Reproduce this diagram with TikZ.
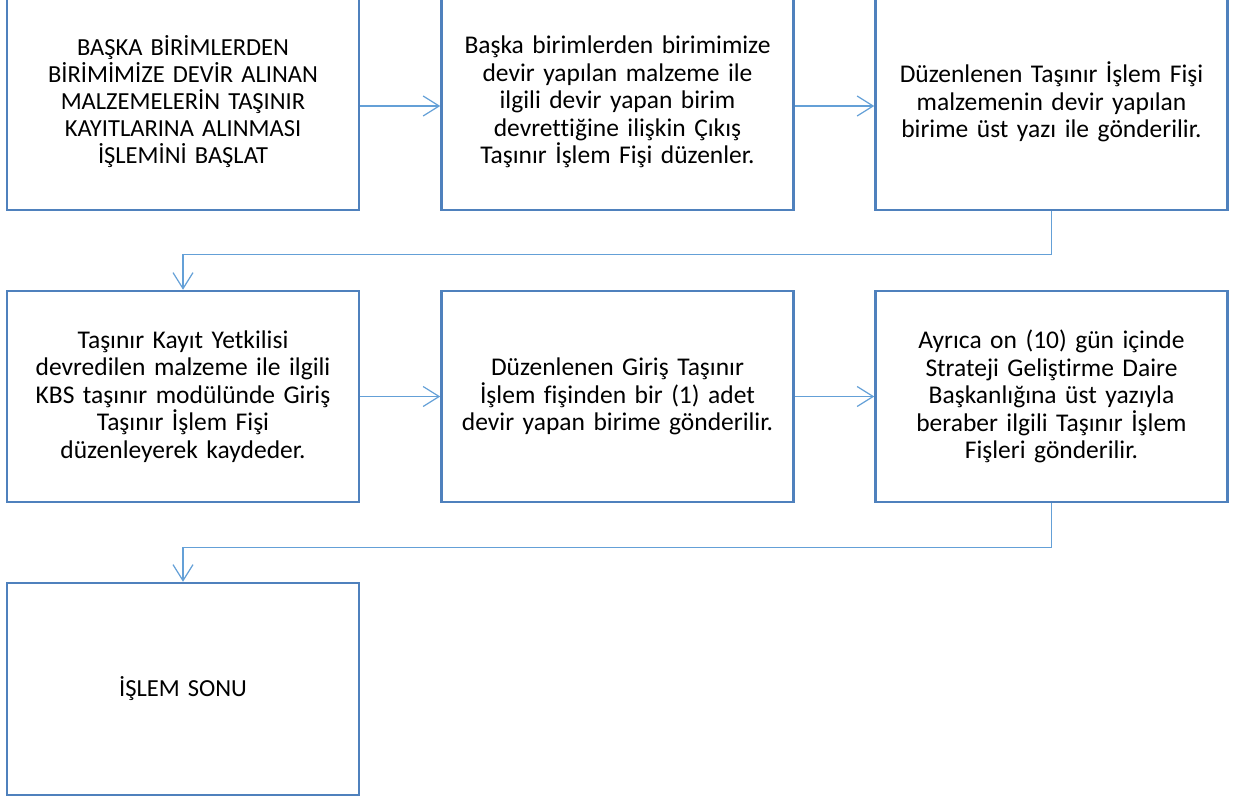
\documentclass[tikz,border=0pt]{standalone}
\usepackage{fontspec}
\setmainfont{Carlito}[Ligatures={NoCommon}]
\usetikzlibrary{arrows.meta}
\definecolor{boxblue}{RGB}{79,129,189}
\definecolor{linkblue}{RGB}{100,160,215}
\tikzset{
  stepbox/.style={draw=boxblue, line width=2.5pt, fill=none, minimum width=352pt, minimum height=211pt, inner sep=0pt, align=center, text width=345pt, font=\fontsize{25.5}{27.5}\selectfont},
  capsfont/.style={font=\fontsize{24.5}{27}\selectfont},
  conn/.style={draw=linkblue, line width=1.2pt, -{Straight Barb[length=16pt,width=20pt,line width=1.2pt]}}
}
\begin{document}
\begin{tikzpicture}[x=1pt,y=-1pt]
\useasboundingbox (0,0) rectangle (1243,800);
\node[stepbox, capsfont, minimum height=216pt] (b1) at (183,102) {BAŞKA BİRİMLERDEN\\BİRİMİMİZE DEVİR ALINAN\\MALZEMELERİN TAŞINIR\\KAYITLARINA ALINMASI\\İŞLEMİNİ BAŞLAT};
\node[stepbox, minimum height=216pt] (b2) at (617.5,102) {Başka birimlerden birimimize\\devir yapılan malzeme ile\\ilgili devir yapan birim\\devrettiğine ilişkin Çıkış\\Taşınır İşlem Fişi düzenler.};
\node[stepbox, minimum height=216pt] (b3) at (1051.5,102) {Düzenlenen Taşınır İşlem Fişi\\malzemenin devir yapılan\\birime üst yazı ile gönderilir.};
\node[stepbox] (b4) at (183,396.5) {Taşınır Kayıt Yetkilisi\\devredilen malzeme ile ilgili\\KBS taşınır modülünde Giriş\\Taşınır İşlem Fişi\\düzenleyerek kaydeder.};
\node[stepbox] (b5) at (617.5,396.5) {Düzenlenen Giriş Taşınır\\İşlem fişinden bir (1) adet\\devir yapan birime gönderilir.};
\node[stepbox] (b6) at (1051.5,396.5) {Ayrıca on (10) gün içinde\\Strateji Geliştirme Daire\\Başkanlığına üst yazıyla\\beraber ilgili Taşınır İşlem\\Fişleri gönderilir.};
\node[stepbox, capsfont, minimum height=212pt] (b7) at (183,689) {İŞLEM SONU};
\draw[conn] ([yshift=-4pt]b1.east) -- ([yshift=-4pt]b2.west);
\draw[conn] ([yshift=-4pt]b2.east) -- ([yshift=-4pt]b3.west);
\draw[conn] (b4.east) -- (b5.west);
\draw[conn] (b5.east) -- (b6.west);
\draw[conn] (b3.south) -- ++(0,43) -| (b4.north);
\draw[conn] (b6.south) -- ++(0,44) -| (b7.north);
\end{tikzpicture}
\end{document}
